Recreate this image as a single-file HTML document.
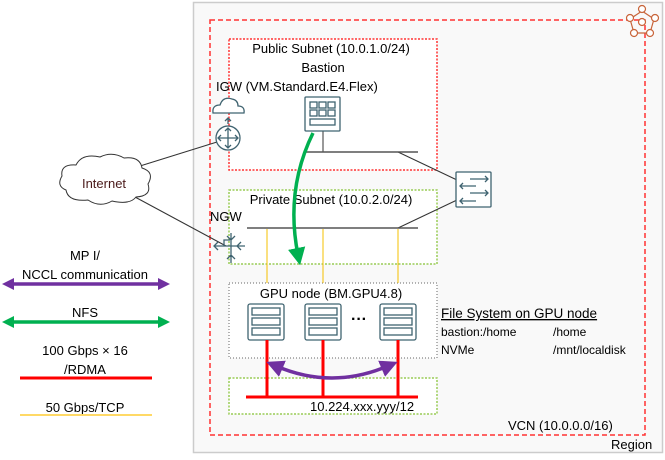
<!DOCTYPE html>
<html><head><meta charset="utf-8"><style>
html,body{margin:0;padding:0;background:#fff}
svg{display:block;font-family:"Liberation Sans","Noto Sans CJK JP",sans-serif;font-size:13px}
</style></head><body>
<svg width="665" height="460" viewBox="0 0 665 460" xmlns="http://www.w3.org/2000/svg">
<defs>
<marker id="pa" markerWidth="5" markerHeight="5" refX="2" refY="2.5" orient="auto-start-reverse" markerUnits="strokeWidth"><path d="M0,0 L5,2.5 L0,5z" fill="#7030a0"/></marker>
<marker id="ga" markerWidth="5" markerHeight="5" refX="2" refY="2.5" orient="auto" markerUnits="strokeWidth"><path d="M0,0 L5,2.5 L0,5z" fill="#00b050"/></marker>
</defs>
<rect x="193.5" y="2.5" width="469" height="450" fill="#f9f9f9" stroke="#ccc" stroke-width="1.5"/>
<rect x="210" y="20" width="435" height="415" fill="none" stroke="#f33" stroke-width="1.5" stroke-dasharray="5,3"/>
<rect x="229" y="39" width="208" height="131" fill="#fff" stroke="#f33" stroke-width="1.5" stroke-dasharray="2,1.5"/>
<rect x="229" y="190" width="208" height="74" fill="#fff" stroke="#9c5" stroke-width="1.5" stroke-dasharray="2,1.5"/>
<rect x="229" y="283" width="208" height="75" fill="#fff" stroke="#666" stroke-width="1" stroke-dasharray="1,2"/>
<rect x="229" y="378" width="208" height="36" fill="#fff" stroke="#9c5" stroke-width="1.5" stroke-dasharray="2,1.5"/>
<g fill="#fff" stroke="#c8643a" stroke-width="1.2">
<path d="M642,11 L654,19 L650,33 L634,33 L630,19Z" fill="none"/>
<circle cx="642" cy="9" r="3.5"/><circle cx="655" cy="18" r="3.5"/><circle cx="630" cy="18" r="3.5"/><circle cx="634" cy="33" r="3.5"/><circle cx="650" cy="33" r="3.5"/><circle cx="642" cy="22" r="3.5"/>
</g>
<g fill="#000" text-anchor="middle">
<text x="331" y="53">Public Subnet (10.0.1.0/24)</text>
<text x="323" y="72">Bastion</text>
<text x="331" y="204">Private Subnet (10.0.2.0/24)</text>
<text x="331" y="298">GPU node (BM.GPU4.8)</text>
<text x="85" y="260">MP I/</text>
<text x="85" y="279">NCCL communication</text>
<text x="85" y="317">NFS</text>
<text x="85" y="355">100 Gbps × 16</text>
<text x="85" y="374">/RDMA</text>
<text x="85" y="412">50 Gbps/TCP</text>
</g>
<text x="216" y="91">IGW (VM.Standard.E4.Flex)</text>
<text x="210" y="221">NGW</text>
<text x="441" y="318" text-decoration="underline" font-size="13.5">File System on GPU node</text>
<text x="441" y="336" font-size="12">bastion:/home</text><text x="553" y="336" font-size="12">/home</text>
<text x="441" y="354" font-size="12">NVMe</text><text x="553" y="354" font-size="12">/mnt/localdisk</text>
<text x="310" y="411">10.224.xxx.yyy/12</text>
<text x="508" y="430">VCN (10.0.0.0/16)</text>
<text x="611" y="449">Region</text>
<g stroke="#333" stroke-width="1" fill="none">
<line x1="140" y1="166" x2="217" y2="142"/>
<line x1="135" y1="197" x2="226" y2="246"/>
<line x1="323" y1="131" x2="323" y2="152"/>
<line x1="398" y1="152" x2="457" y2="180"/>
<line x1="457" y1="200" x2="398" y2="228"/>
</g>
<line x1="304" y1="152" x2="418" y2="152" stroke="#555" stroke-width="1.5"/>
<line x1="247" y1="228" x2="418" y2="228" stroke="#555" stroke-width="1.5"/>
<g stroke="#f5c000" stroke-width="1"><line x1="267" y1="229" x2="267" y2="283"/><line x1="323" y1="229" x2="323" y2="283"/><line x1="398" y1="229" x2="398" y2="283"/></g>
<g stroke="#3f6370" stroke-width="1.3" fill="#fff">
<rect x="305" y="97" width="35" height="34" rx="1"/>
<rect x="310" y="102" width="7" height="6"/><rect x="319" y="102" width="7" height="6"/><rect x="328" y="102" width="7" height="6"/>
<rect x="310" y="110" width="7" height="6"/><rect x="319" y="110" width="7" height="6"/><rect x="328" y="110" width="7" height="6"/>
<rect x="310" y="119" width="25" height="6"/>
</g>
<g stroke="#3f6370" stroke-width="1.3" fill="none">
<path d="M213,113 Q212,105 220,105 Q223,96 232,99 Q238,100 238,106 Q245,106 244,113Z" fill="#fff"/>
<circle cx="228" cy="138" r="12" fill="#fff"/>
<path d="M228,128 V148 M218,138 H238 M225,131 L228,128 L231,131 M225,145 L228,148 L231,145 M221,135 L218,138 L221,141 M235,135 L238,138 L235,141"/>
<path d="M228,118 V124 M225,121 L228,118 L231,121"/>
</g>
<g stroke="#3f6370" stroke-width="1.3" fill="#fff">
<rect x="456" y="172" width="35" height="35" rx="1"/>
<path d="M470,179 H488 M485,176 L488,179 L485,182 M460,186 H476 M463,183 L460,186 L463,189 M470,193 H488 M485,190 L488,193 L485,196 M460,201 H476 M463,198 L460,201 L463,204" fill="none"/>
</g>
<g stroke="#3f6370" stroke-width="1.3" fill="none">
<path d="M231,233 V263 M214,246 H245 M227,236 L231,240 L235,236 M227,259 L231,255 L235,259 M218,242 L214,246 L218,250 M241,242 L237,246 L241,250 M224,246 V240 H230"/>
</g>
<g stroke="#3f6370" stroke-width="1.3" fill="#fff">
<g id="sv"><rect x="248" y="304" width="36" height="36" rx="2"/><rect x="252" y="308" width="28" height="7"/><rect x="252" y="318" width="28" height="7"/><rect x="252" y="328" width="28" height="7"/></g>
<use href="#sv" x="57"/><use href="#sv" x="132"/>
</g>
<text x="351" y="324" font-size="16" font-weight="bold">···</text>
<g stroke="#f00" stroke-width="3"><line x1="267" y1="340" x2="267" y2="398"/><line x1="323" y1="340" x2="323" y2="398"/><line x1="398" y1="340" x2="398" y2="398"/><line x1="246" y1="397" x2="418" y2="397"/></g>
<line x1="20" y1="378" x2="152" y2="378" stroke="#f00" stroke-width="3"/>
<line x1="20" y1="415" x2="152" y2="415" stroke="#ffd966" stroke-width="2"/>
<path d="M276,366 Q332,390 388,366" fill="none" stroke="#7030a0" stroke-width="3.5" marker-start="url(#pa)" marker-end="url(#pa)"/>
<path d="M313,133 Q285,190 298,255" fill="none" stroke="#00b050" stroke-width="3.5" marker-end="url(#ga)"/>
<line x1="12" y1="284" x2="162" y2="284" stroke="#7030a0" stroke-width="3.5"/>
<path d="M2,284 L14,278 L14,290Z M170,284 L158,278 L158,290Z" fill="#7030a0"/>
<line x1="12" y1="322" x2="162" y2="322" stroke="#00b050" stroke-width="3.5"/>
<path d="M2,322 L14,316 L14,328Z M170,322 L158,316 L158,328Z" fill="#00b050"/>
<path d="M66,190 Q56,186 62,176 Q60,164 76,165 Q82,153 100,157 Q112,151 124,158 Q140,156 142,168 Q155,172 148,184 Q152,196 136,197 Q130,205 112,201 Q100,208 88,200 Q68,202 66,190Z" fill="#fff" stroke="#333" stroke-width="1"/>
<text x="104" y="188" text-anchor="middle" fill="#4a1a1a">Internet</text>
</svg>
</body></html>
